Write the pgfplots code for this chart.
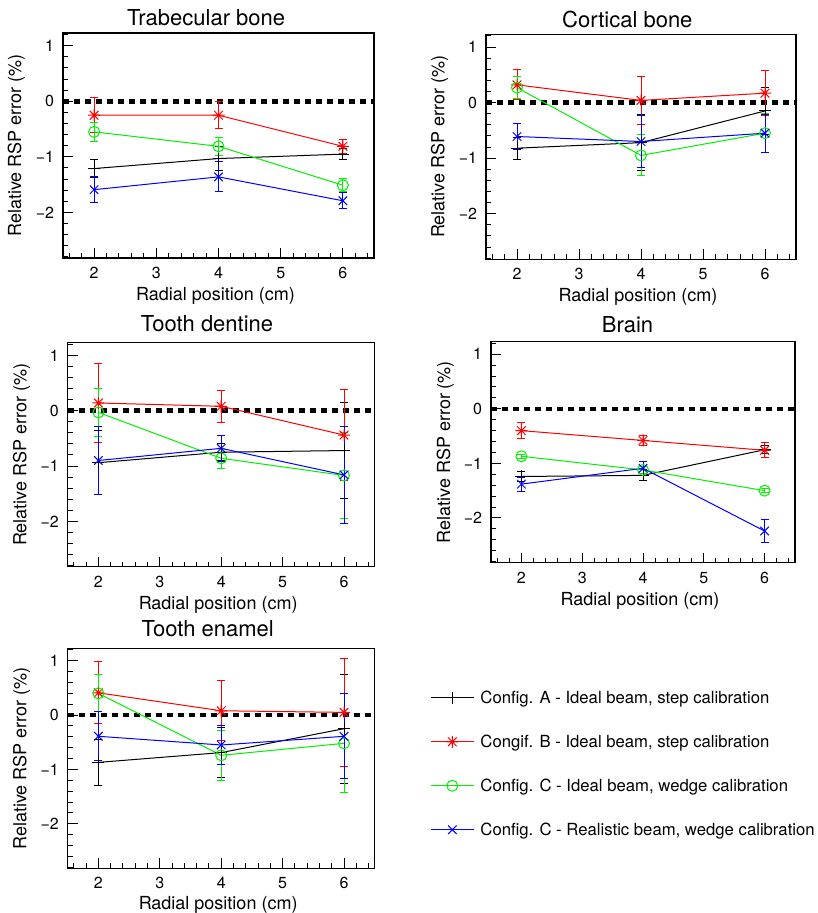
\documentclass[border=0pt]{standalone}
\usepackage{fontspec}
\setmainfont{TeX Gyre Heros}
\usepackage{pgfplots}
\pgfplotsset{compat=1.18}

\pgfdeclareplotmark{rootstar}{%
  \pgfpathmoveto{\pgfqpoint{-\pgfplotmarksize}{0pt}}%
  \pgfpathlineto{\pgfqpoint{\pgfplotmarksize}{0pt}}%
  \pgfpathmoveto{\pgfqpoint{0pt}{-\pgfplotmarksize}}%
  \pgfpathlineto{\pgfqpoint{0pt}{\pgfplotmarksize}}%
  \pgfpathmoveto{\pgfqpoint{-0.72\pgfplotmarksize}{-0.72\pgfplotmarksize}}%
  \pgfpathlineto{\pgfqpoint{0.72\pgfplotmarksize}{0.72\pgfplotmarksize}}%
  \pgfpathmoveto{\pgfqpoint{-0.72\pgfplotmarksize}{0.72\pgfplotmarksize}}%
  \pgfpathlineto{\pgfqpoint{0.72\pgfplotmarksize}{-0.72\pgfplotmarksize}}%
  \pgfusepathqstroke}

\definecolor{rred}{RGB}{255,0,0}
\definecolor{rgreen}{RGB}{0,240,0}
\definecolor{rblue}{RGB}{0,0,255}

\pgfplotsset{
  rootaxis/.style={
    scale only axis,
    xmin=1.5, xmax=6.5, ymin=-2.82, ymax=1.23,
    xtick={2,3,4,5,6},
    minor xtick={1.6,1.8,2.2,2.4,2.6,2.8,3.2,3.4,3.6,3.8,4.2,4.4,4.6,4.8,5.2,5.4,5.6,5.8,6.2,6.4},
    ytick={-2,-1,0,1}, yticklabels={−2,−1,0,1},
    minor ytick={-2.8,-2.6,-2.4,-2.2,-1.8,-1.6,-1.4,-1.2,-0.8,-0.6,-0.4,-0.2,0.2,0.4,0.6,0.8,1.2},
    tick align=inside, tick pos=left,
    major tick length=10pt, minor tick length=5pt,
    every tick/.style={black, line width=1pt},
    axis line style={line width=1.2pt},
    /pgf/number format/assume math mode=true,
    ticklabel style={font=\fontsize{16}{16}\selectfont, inner sep=0pt},
    xticklabel style={yshift=-9pt},
    yticklabel style={xshift=-8.7pt},
    xlabel={Radial position (cm)}, ylabel={Relative RSP error (\%)},
    label style={font=\fontsize{18}{18}\selectfont, inner sep=0pt},
    every axis title shift=0pt,
    title style={font=\fontsize{22}{22}\selectfont, anchor=center, inner sep=0pt},
    ylabel style={at={(axis description cs:-0.15,0.5)}, anchor=center},
    clip=false,
  },
  zero/.style={black, line width=4.5pt, dash pattern=on 6pt off 5pt, forget plot},
  ser/.style={#1, line width=1pt, mark options={solid, line width=1pt},
    error bars/y dir=both, error bars/y explicit,
    error bars/error bar style={line width=1pt},
    error bars/error mark options={rotate=90, mark size=4pt, line width=1pt}},
  sA/.style={ser=black, mark=+, mark size=6pt},
  sB/.style={ser=rred, mark=rootstar, mark size=6pt},
  sC/.style={ser=rgreen, mark=o, mark size=5.5pt},
  sD/.style={ser=rblue, mark=x, mark size=6pt},
}

\begin{document}
\begin{tikzpicture}
\path[use as bounding box] (0,0) rectangle (818pt,913pt);

% Trabecular bone
\begin{axis}[rootaxis, at={(63pt,655pt)}, anchor=south west, width=311pt, height=225pt,
  title={Trabecular bone}, title style={at={(axis description cs:0.46,1.067)}},
  xlabel style={at={(axis description cs:0.49,-0.188)}, anchor=base}]
\addplot[zero] coordinates {(1.5,0) (6.5,0)};
\addplot[sA] table[y error=e] {
x y e
2 -1.21 0.16
4 -1.03 0.21
6 -0.95 0.10
};
\addplot[sB] table[y error=e] {
x y e
2 -0.25 0.31
4 -0.25 0.24
6 -0.81 0.13
};
\addplot[sC] table[y error=e] {
x y e
2 -0.55 0.17
4 -0.81 0.16
6 -1.51 0.12
};
\addplot[sD] table[y error=e] {
x y e
2 -1.59 0.23
4 -1.36 0.27
6 -1.79 0.14
};
\end{axis}

% Cortical bone
\begin{axis}[rootaxis, at={(486pt,653.7pt)}, anchor=south west, width=310pt, height=225pt,
  title={Cortical bone}, title style={at={(axis description cs:0.456,1.067)}},
  xlabel style={at={(axis description cs:0.49,-0.188)}, anchor=base}]
\addplot[zero] coordinates {(1.5,0) (6.5,0)};
\addplot[sA] table[y error=e] {
x y e
2 -0.82 0.20
4 -0.72 0.50
6 -0.15 0.42
};
\addplot[sB] table[y error=e] {
x y e
2 0.32 0.27
4 0.04 0.43
6 0.17 0.41
};
\addplot[sC] table[y error=e] {
x y e
2 0.27 0.20
4 -0.95 0.37
6 -0.55 0.35
};
\addplot[sD] table[y error=e] {
x y e
2 -0.61 0.24
4 -0.70 0.46
6 -0.55 0.34
};
\end{axis}

% Tooth dentine
\begin{axis}[rootaxis, at={(67.7pt,346.3pt)}, anchor=south west, width=307pt, height=224pt,
  title={Tooth dentine}, title style={at={(axis description cs:0.454,1.087)}},
  xlabel style={at={(axis description cs:0.49,-0.19)}, anchor=base}]
\addplot[zero] coordinates {(1.5,0) (6.5,0)};
\addplot[sA] table[y error=e] {
x y e
2 -0.94 0.58
4 -0.75 0.15
6 -0.72 0.86
};
\addplot[sB] table[y error=e] {
x y e
2 0.14 0.72
4 0.08 0.29
6 -0.44 0.82
};
\addplot[sC] table[y error=e] {
x y e
2 -0.03 0.44
4 -0.86 0.18
6 -1.17 0.77
};
\addplot[sD] table[y error=e] {
x y e
2 -0.90 0.61
4 -0.68 0.24
6 -1.16 0.88
};
\end{axis}

% Brain
\begin{axis}[rootaxis, at={(491pt,350.3pt)}, anchor=south west, width=304pt, height=221pt,
  title={Brain}, title style={at={(axis description cs:0.449,1.079)}},
  xlabel style={at={(axis description cs:0.49,-0.195)}, anchor=base}]
\addplot[zero] coordinates {(1.5,0) (6.5,0)};
\addplot[sA] table[y error=e] {
x y e
2 -1.24 0.10
4 -1.22 0.10
6 -0.75 0.07
};
\addplot[sB] table[y error=e] {
x y e
2 -0.40 0.14
4 -0.58 0.09
6 -0.76 0.14
};
\addplot[sC] table[y error=e] {
x y e
2 -0.87 0.04
4 -1.12 0.06
6 -1.50 0.04
};
\addplot[sD] table[y error=e] {
x y e
2 -1.38 0.13
4 -1.09 0.13
6 -2.24 0.21
};
\end{axis}

% Tooth enamel
\begin{axis}[rootaxis, at={(67.7pt,44.7pt)}, anchor=south west, width=307pt, height=220pt,
  title={Tooth enamel}, title style={at={(axis description cs:0.456,1.09)}},
  xlabel style={at={(axis description cs:0.49,-0.185)}, anchor=base},
  legend style={at={(axis description cs:1.18,0.475)}, anchor=west, draw=none, fill=none,
    inner sep=0pt, font=\fontsize{16.7}{16.7}\selectfont, row sep=26pt, column sep=4pt,
    cells={anchor=west}},
  legend image code/.code={\draw[mark repeat=2,mark phase=2] plot coordinates {(0pt,0pt) (21.65pt,0pt) (43.3pt,0pt)};}]
\addplot[zero] coordinates {(1.5,0) (6.5,0)};
\addplot[sA] table[y error=e] {
x y e
2 -0.87 0.43
4 -0.69 0.46
6 -0.25 1.00
};
\addlegendentry{Config. A - Ideal beam, step calibration}
\addplot[sB] table[y error=e] {
x y e
2 0.41 0.57
4 0.08 0.55
6 0.05 1.00
};
\addlegendentry{Congif. B - Ideal beam, step calibration}
\addplot[sC] table[y error=e] {
x y e
2 0.40 0.34
4 -0.74 0.46
6 -0.52 0.91
};
\addlegendentry{Config. C - Ideal beam, wedge calibration}
\addplot[sD] table[y error=e] {
x y e
2 -0.39 0.45
4 -0.55 0.35
6 -0.39 0.78
};
\addlegendentry{Config. C - Realistic beam, wedge calibration}
\end{axis}
\end{tikzpicture}
\end{document}
